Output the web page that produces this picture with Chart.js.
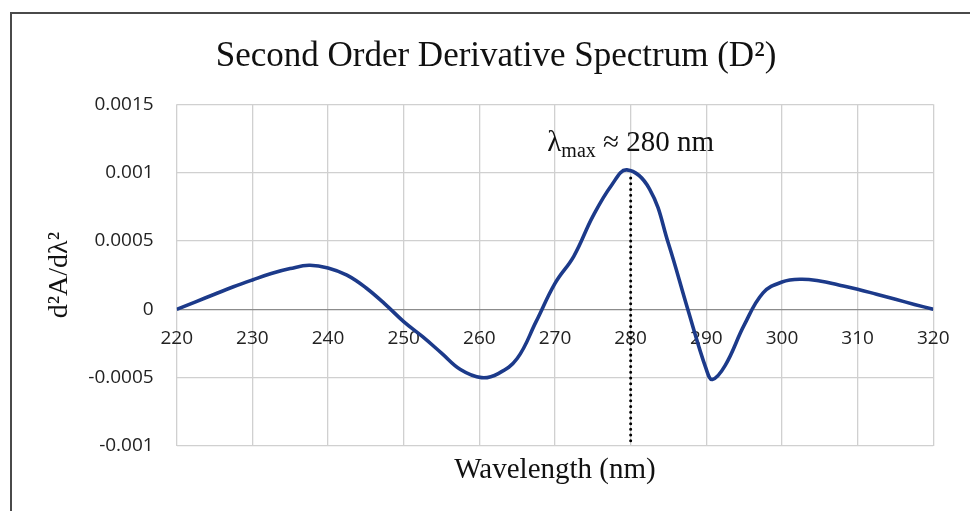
<!DOCTYPE html>
<html>
<head>
<meta charset="utf-8">
<script src="https://cdn.jsdelivr.net/npm/chart.js@4.4.0/dist/chart.umd.min.js"></script>
<style>
  html, body { margin: 0; padding: 0; background: #fff; }
  #wrap { position: relative; width: 970px; height: 511px; }
  #wrap canvas { display: block; }
  #frame {
    position: absolute; left: 10px; top: 12px; right: 0; bottom: 0;
    border-left: 2px solid #4a4a4a; border-top: 2px solid #4a4a4a;
    pointer-events: none;
  }
</style>
</head>
<body>
<div id="wrap">
  <canvas id="chart" width="970" height="511"></canvas>
  <div id="frame"></div>
</div>
<script>
// wavelength (nm) and second derivative values
const wavelengths = [
  220, 222.5, 225, 227.5, 230, 232.5, 235, 237.5, 240, 242.5, 245, 247.5,
  250, 252.5, 255, 257.5, 260.3, 262.5, 265, 267.5, 270, 272.5, 275, 277.5,
  279.5, 282.5, 285, 287.5, 290, 290.8, 292.5, 295, 297.5, 300, 302.5, 305,
  307.5, 310, 312.5, 315, 317.5, 320
];
const d2Values = [
  0, 0.000055, 0.00011, 0.000165, 0.000215, 0.000262, 0.000298, 0.000322, 0.000303, 0.00025, 0.000158, 0.00004,
  -0.00009, -0.0002, -0.00032, -0.00044, -0.0005, -0.00047, -0.00036, -0.00009, 0.00019, 0.00039, 0.00068, 0.00091,
  0.00102, 0.00088, 0.00048, 0.00001, -0.00044, -0.000513, -0.00041, -0.000116, 0.00012, 0.0002, 0.00022, 0.000207,
  0.000178, 0.000147, 0.00011, 0.000073, 0.000036, 0
];

const xTicks = [220, 230, 240, 250, 260, 270, 280, 290, 300, 310, 320];
const yTicks = [-0.001, -0.0005, 0, 0.0005, 0.001, 0.0015];
const yTickLabels = ['-0.001', '-0.0005', '0', '0.0005', '0.001', '0.0015'];

// dotted marker at lambda max
const lambdaMax = 280;
const markerRange = [0.00096, -0.001];
const labelLevel = 0.00116;
const labelParts = ['λ', 'max', ' ≈ 280 nm'];

const serif = "'Liberation Serif', 'Times New Roman', serif";
const sans = "'Open Sans', 'Liberation Sans', sans-serif";
const gridColor = '#d0d0d0';

const lambdaLabel = {
    id: 'lambdaLabel',
    afterDatasetsDraw(chart) {
        const { ctx, scales } = chart;
        const px = scales.x.getPixelForValue(lambdaMax);
        const py = scales.y.getPixelForValue(labelLevel);
        const big = '29px ' + serif;
        const small = '20px ' + serif;
        ctx.save();
        ctx.fillStyle = '#111';
        ctx.textBaseline = 'alphabetic';
        ctx.textAlign = 'left';
        ctx.font = big;
        const w1 = ctx.measureText(labelParts[0]).width;
        const w3 = ctx.measureText(labelParts[2]).width;
        ctx.font = small;
        const w2 = ctx.measureText(labelParts[1]).width;
        let left = px - (w1 + w2 + w3) / 2;
        ctx.font = big;
        ctx.fillText(labelParts[0], left, py);
        ctx.font = small;
        ctx.fillText(labelParts[1], left + w1, py + 6);
        ctx.font = big;
        ctx.fillText(labelParts[2], left + w1 + w2, py);
        ctx.restore();
    }
};

new Chart(document.getElementById('chart'), {
    type: 'line',
    data: {
        datasets: [
            {
                data: markerRange.map(v => ({ x: lambdaMax, y: v })),
                borderColor: '#000',
                borderWidth: 3,
                borderDash: [0.01, 5.7],
                borderCapStyle: 'round',
                pointRadius: 0,
            },
            {
                data: wavelengths.map((w, i) => ({ x: w, y: d2Values[i] })),
                borderColor: '#1c3a8a',
                borderWidth: 3.6,
                tension: 0.4,
                pointRadius: 0,
            }
        ]
    },
    options: {
        responsive: false,
        animation: false,
        layout: { padding: { left: 22, right: 0, top: 0, bottom: 0 } },
        plugins: {
            legend: { display: false },
            tooltip: { enabled: false },
            title: {
                display: true,
                text: 'Second Order Derivative Spectrum (D²)',
                color: '#111',
                font: { family: serif, size: 35, weight: 'normal' },
                padding: { top: 36, bottom: 26.3 },
            }
        },
        scales: {
            x: {
                type: 'linear',
                position: 'bottom',
                min: 220,
                max: 320,
                afterBuildTicks: s => { s.ticks = xTicks.map(v => ({ value: v })); },
                afterFit: s => { s.height = 65; },
                ticks: { display: false },
                grid: { color: gridColor, lineWidth: 1.3, drawTicks: false },
                border: { display: false },
                title: {
                    display: true,
                    text: 'Wavelength (nm)',
                    color: '#111',
                    font: { family: serif, size: 29 },
                    padding: { top: 0, bottom: 23.6 },
                }
            },
            x2: {
                type: 'linear',
                axis: 'x',
                position: { y: 0 },
                min: 220,
                max: 320,
                afterBuildTicks: s => { s.ticks = xTicks.map(v => ({ value: v })); },
                ticks: {
                    color: '#222',
                    font: { family: sans, size: 19 },
                    padding: 18,
                    maxRotation: 0,
                    autoSkip: false,
                },
                grid: { display: false, drawTicks: false },
                border: { display: false },
            },
            y: {
                type: 'linear',
                position: 'left',
                min: -0.001,
                max: 0.0015,
                afterBuildTicks: s => { s.ticks = yTicks.map(v => ({ value: v })); },
                afterFit: s => { s.width = 154.7; },
                ticks: {
                    color: '#222',
                    font: { family: sans, size: 19 },
                    padding: 23,
                    callback: (value) => {
                        const i = yTicks.findIndex(t => Math.abs(t - value) < 1e-9);
                        return i >= 0 ? yTickLabels[i] : '';
                    }
                },
                grid: {
                    color: ctx => (ctx.tick && ctx.tick.value === 0 ? '#8c8c8c' : gridColor),
                    lineWidth: 1.3,
                    drawTicks: false,
                },
                border: { display: false },
                title: {
                    display: true,
                    text: 'd²A/dλ²',
                    color: '#111',
                    font: { family: serif, size: 28 },
                    padding: { top: 21, bottom: 0 },
                }
            },
            yRight: {
                type: 'linear',
                position: 'right',
                afterFit: s => { s.width = 36.7; },
                ticks: { display: false },
                grid: { display: false, drawTicks: false },
                border: { display: false },
            }
        }
    },
    plugins: [lambdaLabel]
});
</script>
</body>
</html>
